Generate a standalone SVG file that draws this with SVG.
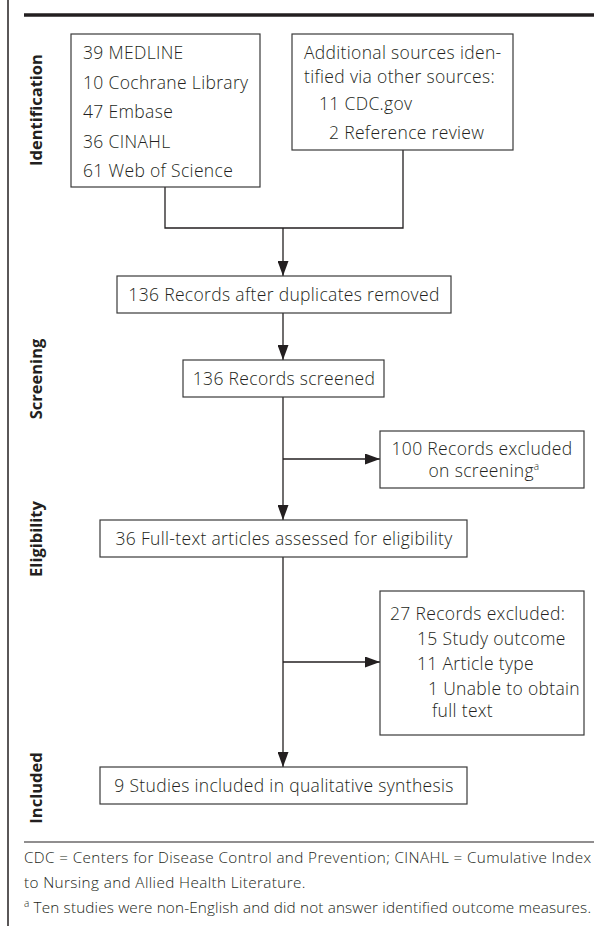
<svg xmlns="http://www.w3.org/2000/svg" width="594" height="929" viewBox="0 0 594 929">
<style>
.bg{fill:#fff}
.box{fill:#fff;stroke:#3a3a3a;stroke-width:1.2}
.t{font-family:"Open Sans","Noto Sans","Liberation Sans",sans-serif;font-size:17.5px;font-weight:300;letter-spacing:0.33px;fill:#231f20}
.lbl{font-family:"Open Sans","Noto Sans","Liberation Sans",sans-serif;font-size:16.5px;font-weight:bold;fill:#231f20}
.fn{font-family:"Open Sans","Noto Sans","Liberation Sans",sans-serif;font-size:15.3px;font-weight:300;letter-spacing:0.37px;fill:#231f20}
.mid{text-anchor:middle}
.conn{fill:none;stroke:#231f20;stroke-width:1.3}
.rule{stroke:#231f20}
</style>
<defs>
<marker id="arr" markerUnits="userSpaceOnUse" markerWidth="15" markerHeight="11" refX="15" refY="5.5" orient="auto">
<path d="M0,0 L15,5.5 L0,11 Z" fill="#231f20"/>
</marker>
</defs>
<rect class="bg" x="0" y="0" width="594" height="929"/>
<g id="frame">
<line class="rule" x1="8" y1="0" x2="8" y2="926" stroke-width="1.5"/>
<line class="rule" x1="24" y1="15" x2="594" y2="15" stroke-width="3.5"/>
<line class="rule" x1="24" y1="842" x2="594" y2="842" stroke-width="1.2"/>
</g>
<g id="phase-labels">
<text class="lbl mid" transform="translate(41.5,110) rotate(-90)">Identification</text>
<text class="lbl mid" transform="translate(41.5,379) rotate(-90)">Screening</text>
<text class="lbl mid" transform="translate(41.5,539) rotate(-90)">Eligibility</text>
<text class="lbl mid" transform="translate(41.5,788) rotate(-90)">Included</text>
</g>
<g id="connectors">
<path class="conn" d="M165,187 V228 H403 V150"/>
<path class="conn" d="M283,228 V276" marker-end="url(#arr)"/>
<path class="conn" d="M283,313 V360" marker-end="url(#arr)"/>
<path class="conn" d="M283,397 V520" marker-end="url(#arr)"/>
<path class="conn" d="M283,459 H380" marker-end="url(#arr)"/>
<path class="conn" d="M283,557 V767" marker-end="url(#arr)"/>
<path class="conn" d="M283,662 H380" marker-end="url(#arr)"/>
</g>
<g id="n-databases">
<rect class="box" x="71" y="34" width="189" height="153"/>
<text class="t" x="83" y="59">39 MEDLINE</text>
<text class="t" x="83" y="88.5">10 Cochrane Library</text>
<text class="t" x="83" y="118">47 Embase</text>
<text class="t" x="83" y="147.5">36 CINAHL</text>
<text class="t" x="83" y="177">61 Web of Science</text>
</g>
<g id="n-other-sources">
<rect class="box" x="292" y="34" width="221" height="116"/>
<text class="t" x="304" y="59">Additional sources iden-</text>
<text class="t" x="304" y="83">tified via other sources:</text>
<text class="t" x="319" y="110">11 CDC.gov</text>
<text class="t" x="329" y="139">2 Reference review</text>
</g>
<g id="n-deduplicated">
<rect class="box" x="117" y="276" width="334" height="37"/>
<text class="t mid" x="284" y="301">136 Records after duplicates removed</text>
</g>
<g id="n-screened">
<rect class="box" x="183" y="360" width="201" height="37"/>
<text class="t mid" x="284" y="385">136 Records screened</text>
</g>
<g id="n-excluded-screening">
<rect class="box" x="380" y="431" width="204" height="57"/>
<text class="t mid" x="482" y="455">100 Records excluded</text>
<text class="t mid" x="484" y="477">on screening<tspan font-size="10" dy="-7">a</tspan></text>
</g>
<g id="n-fulltext">
<rect class="box" x="100" y="520" width="367" height="37"/>
<text class="t mid" x="284" y="545">36 Full-text articles assessed for eligibility</text>
</g>
<g id="n-excluded-fulltext">
<rect class="box" x="380" y="591" width="204" height="144"/>
<text class="t" x="390" y="620">27 Records excluded:</text>
<text class="t" x="417" y="645">15 Study outcome</text>
<text class="t" x="417" y="670">11 Article type</text>
<text class="t" x="428" y="695">1 Unable to obtain</text>
<text class="t" x="432" y="717">full text</text>
</g>
<g id="n-included">
<rect class="box" x="100" y="767" width="367" height="37"/>
<text class="t mid" x="284" y="792">9 Studies included in qualitative synthesis</text>
</g>
<g id="footnotes">
<text class="fn" x="24" y="863">CDC = Centers for Disease Control and Prevention; CINAHL = Cumulative Index</text>
<text class="fn" x="24" y="888">to Nursing and Allied Health Literature.</text>
<text class="fn" x="24" y="913" style="letter-spacing:0.15px"><tspan font-size="10" dy="-6">a</tspan><tspan dy="6"> Ten studies were non-English and did not answer identified outcome measures.</tspan></text>
</g>
</svg>
